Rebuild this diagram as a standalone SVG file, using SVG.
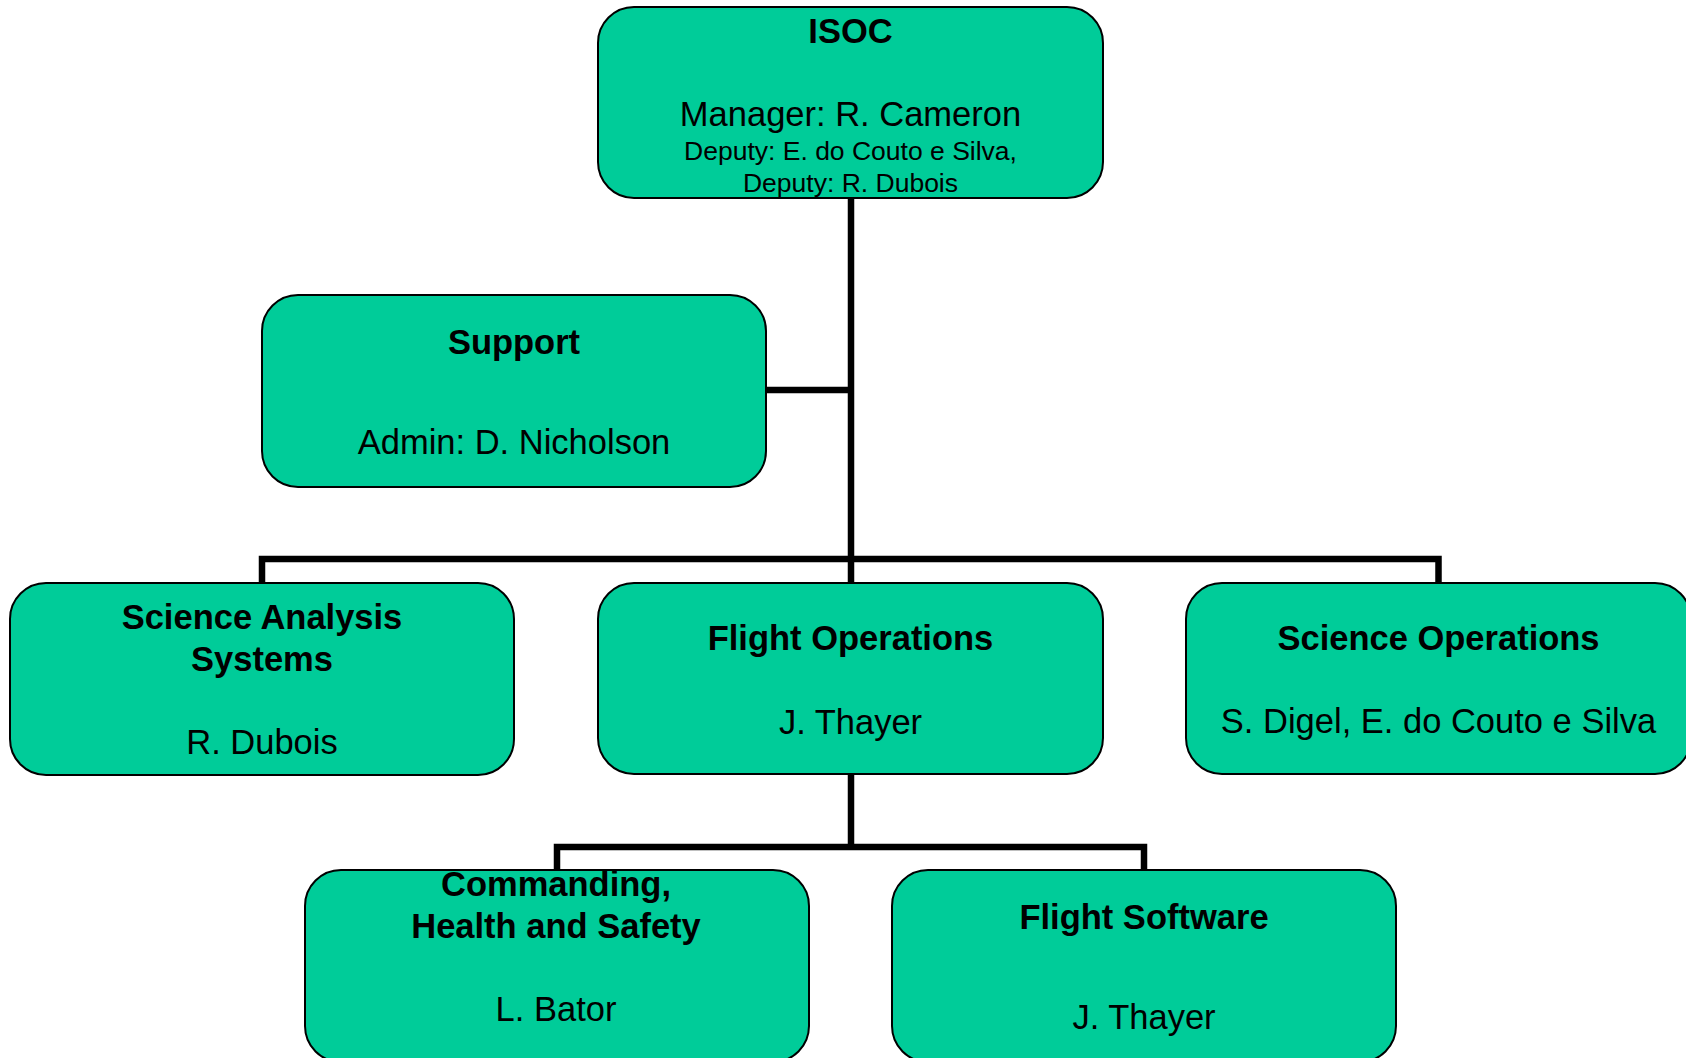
<svg xmlns="http://www.w3.org/2000/svg" width="1686" height="1058" viewBox="0 0 1686 1058">
<style>
.box{fill:#00CC99;stroke:#000;stroke-width:2}
.conn{fill:none;stroke:#000;stroke-width:6.5;stroke-linejoin:miter;stroke-linecap:butt}
text{font-family:"Liberation Sans",Arial,sans-serif;fill:#000;text-anchor:middle}
.b{font-weight:bold;font-size:34.5px}
.n{font-size:34.5px}
.s{font-size:26.5px}
</style>
<rect width="1686" height="1058" fill="#fff"/>
<g id="connectors">
<path class="conn" d="M851 198 V583"/>
<path class="conn" d="M766 390 H851"/>
<path class="conn" d="M262 583 V559 H1438.5 V583"/>
<path class="conn" d="M851 774 V847"/>
<path class="conn" d="M557 870 V847 H1144 V870"/>
</g>
<g id="isoc">
<rect class="box" x="598" y="7" width="505" height="191" rx="36"/>
<text class="b" x="850.5" y="43">ISOC</text>
<text class="n" x="850.5" y="126">Manager: R. Cameron</text>
<text class="s" x="850.5" y="160">Deputy: E. do Couto e Silva,</text>
<text class="s" x="850.5" y="192">Deputy: R. Dubois</text>
</g>
<g id="support">
<rect class="box" x="262" y="295" width="504" height="192" rx="36"/>
<text class="b" x="514" y="354">Support</text>
<text class="n" x="514" y="454">Admin: D. Nicholson</text>
</g>
<g id="science-analysis">
<rect class="box" x="10" y="583" width="504" height="192" rx="36"/>
<text class="b" x="262" y="629">Science Analysis</text>
<text class="b" x="262" y="671">Systems</text>
<text class="n" x="262" y="754">R. Dubois</text>
</g>
<g id="flight-operations">
<rect class="box" x="598" y="583" width="505" height="191" rx="36"/>
<text class="b" x="850.5" y="650">Flight Operations</text>
<text class="n" x="850.5" y="734">J. Thayer</text>
</g>
<g id="science-operations">
<rect class="box" x="1186" y="583" width="505" height="191" rx="36"/>
<text class="b" x="1438.5" y="650">Science Operations</text>
<text class="n" x="1438.5" y="733">S. Digel, E. do Couto e Silva</text>
</g>
<g id="commanding">
<rect class="box" x="305" y="870" width="504" height="192" rx="36"/>
<text class="b" x="556" y="896">Commanding,</text>
<text class="b" x="556" y="938">Health and Safety</text>
<text class="n" x="556" y="1021">L. Bator</text>
</g>
<g id="flight-software">
<rect class="box" x="892" y="870" width="504" height="192" rx="36"/>
<text class="b" x="1144" y="929">Flight Software</text>
<text class="n" x="1144" y="1029">J. Thayer</text>
</g>
</svg>
